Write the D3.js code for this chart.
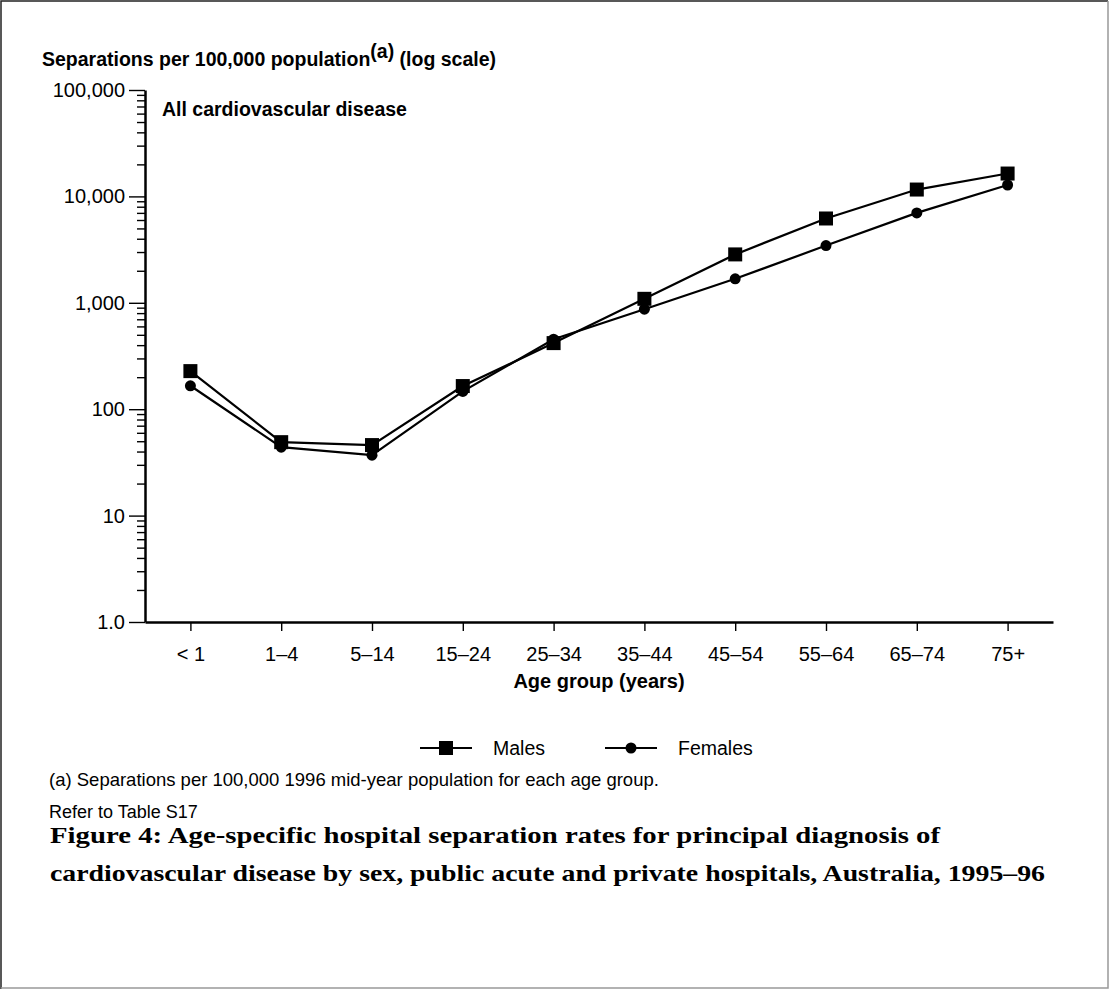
<!DOCTYPE html>
<html>
<head>
<meta charset="utf-8">
<script src="https://cdn.jsdelivr.net/npm/d3@7"></script>
<style>
  body { margin: 0; background: #fff; }
  svg { display: block; }
  text { font-family: "Liberation Sans", Arial, sans-serif; fill: #000; }
</style>
</head>
<body>
<svg id="chart" width="1109" height="989"></svg>
<script>
// data
var ageGroups = ["< 1", "1–4", "5–14", "15–24", "25–34", "35–44", "45–54", "55–64", "65–74", "75+"];
var males = [228, 49, 46, 165, 418, 1090, 2850, 6200, 11600, 16400];
var females = [166, 44, 37, 147, 455, 870, 1680, 3450, 7000, 12800];
var yTickValues = [1, 10, 100, 1000, 10000, 100000];
var yTickLabels = ["1.0", "10", "100", "1,000", "10,000", "100,000"];

var svg = d3.select("#chart");

// frame round the whole figure
svg.append("path").attr("d", "M1,989V1H1108").attr("fill", "none").attr("stroke", "#222").attr("stroke-width", 1.5);
svg.append("path").attr("d", "M1108,1V988H1").attr("fill", "none").attr("stroke", "#999").attr("stroke-width", 1.5);

// plot area (window.top is read-only, so no bare "top")
var plotLeft = 145, plotRight = 1053, plotTop = 90, plotBottom = 622;

var x = d3.scalePoint().domain(ageGroups).range([plotLeft, plotRight]).padding(0.5);
var y = d3.scaleLog().domain([1, 100000]).range([plotBottom, plotTop]);

// y axis: major ticks with labels, minor ticks without
var minor = y.ticks().filter(function (d) {
    return yTickValues.indexOf(d) < 0;
});

var yAxis = svg.append("g")
    .attr("transform", "translate(" + plotLeft + ",0)")
    .call(d3.axisLeft(y).tickValues(yTickValues).tickSize(16).tickSizeOuter(0).tickPadding(4)
        .tickFormat(function (d, i) { return yTickLabels[i]; }));
yAxis.selectAll("text").style("font-size", "20px").attr("fill", "#000");

var yMinor = svg.append("g")
    .attr("transform", "translate(" + plotLeft + ",0)")
    .call(d3.axisLeft(y).tickValues(minor).tickSize(8).tickSizeOuter(0).tickFormat(""));
yMinor.select(".domain").remove();

// x axis
var xAxis = svg.append("g")
    .attr("transform", "translate(0," + plotBottom + ")")
    .call(d3.axisBottom(x).tickSize(9).tickSizeOuter(0).tickPadding(20));
xAxis.selectAll("text").style("font-size", "20px").attr("fill", "#000").attr("dy", "0.5em");

svg.selectAll(".domain").attr("stroke", "#000").attr("stroke-width", 2.5);
svg.selectAll(".tick line").attr("stroke", "#000").attr("stroke-width", 1.4);

// titles
var yTitle = svg.append("text")
    .attr("x", 42).attr("y", 66)
    .style("font-size", "19.5px").style("font-weight", "bold");
yTitle.append("tspan").text("Separations per 100,000 population");
yTitle.append("tspan").attr("dy", -8).text("(a)");
yTitle.append("tspan").attr("dy", 8).text(" (log scale)");

svg.append("text")
    .attr("x", 162).attr("y", 116)
    .style("font-size", "19.5px").style("font-weight", "bold")
    .text("All cardiovascular disease");

svg.append("text")
    .attr("x", (plotLeft + plotRight) / 2).attr("y", 688)
    .attr("text-anchor", "middle")
    .style("font-size", "20px").style("font-weight", "bold")
    .text("Age group (years)");

// series
var series = [
    { name: "Males", values: males, shape: "square" },
    { name: "Females", values: females, shape: "circle" }
];

var line = d3.line()
    .x(function (d, i) { return x(ageGroups[i]); })
    .y(function (d) { return y(d); });

series.forEach(function (s) {
    svg.append("path")
        .datum(s.values)
        .attr("fill", "none")
        .attr("stroke", "#000")
        .attr("stroke-width", 2.2)
        .attr("d", line);
});

function drawMarker(g, shape, cx, cy) {
    if (shape === "square") {
        g.append("rect")
            .attr("x", cx - 7).attr("y", cy - 7)
            .attr("width", 14).attr("height", 14)
            .attr("fill", "#000");
    } else {
        g.append("circle")
            .attr("cx", cx).attr("cy", cy).attr("r", 5.5)
            .attr("fill", "#000");
    }
}

series.forEach(function (s) {
    var g = svg.append("g");
    s.values.forEach(function (v, i) {
        drawMarker(g, s.shape, x(ageGroups[i]), y(v));
    });
});

// legend
var legendX = [420, 605];
series.forEach(function (s, i) {
    var g = svg.append("g").attr("transform", "translate(" + legendX[i] + ",748)");
    g.append("line").attr("x1", 0).attr("x2", 52).attr("stroke", "#000").attr("stroke-width", 2.2);
    drawMarker(g, s.shape, 26, 0);
    g.append("text")
        .attr("x", 73).attr("y", 7)
        .style("font-size", "19.5px")
        .text(s.name);
});

// notes
svg.append("text")
    .attr("x", 49).attr("y", 786)
    .style("font-size", "18.5px")
    .text("(a) Separations per 100,000 1996 mid-year population for each age group.");

svg.append("text")
    .attr("x", 49).attr("y", 818)
    .style("font-size", "18px")
    .text("Refer to Table S17");

// figure caption
var caption = [
    "Figure 4: Age-specific hospital separation rates for principal diagnosis of",
    "cardiovascular disease by sex, public acute and private hospitals, Australia, 1995–96"
];
var captionWidth = [890, 995];
caption.forEach(function (t, i) {
    svg.append("text")
        .attr("x", 50).attr("y", 843 + i * 38)
        .attr("textLength", captionWidth[i])
        .attr("lengthAdjust", "spacingAndGlyphs")
        .style("font-family", "'Palatino Linotype', 'Book Antiqua', 'Liberation Serif', serif")
        .style("font-size", "23px").style("font-weight", "bold")
        .text(t);
});
</script>
</body>
</html>
